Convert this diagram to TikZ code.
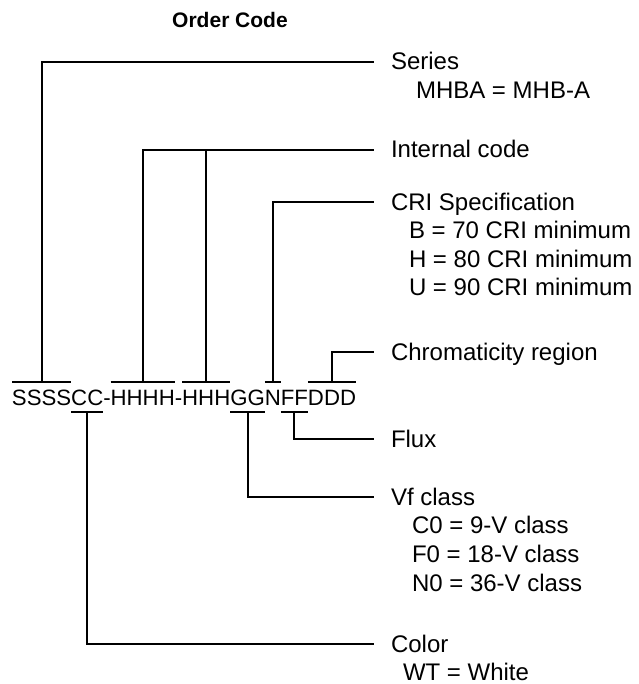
\documentclass[tikz,border=0pt]{standalone}
\usepackage{fontspec}
\setmainfont{Liberation Sans}
\begin{document}
\begin{tikzpicture}[x=1pt,y=1pt,
  code/.style={inner sep=0pt, outer sep=0pt, anchor=base west, font=\fontsize{22.2}{26}\selectfont},
  lab/.style={inner sep=0pt, outer sep=0pt, anchor=base west, font=\fontsize{24}{28}\selectfont},
  ttl/.style={inner sep=0pt, font=\fontsize{21}{25}\selectfont\bfseries},
  link/.style={line width=2pt}]
\useasboundingbox (0,0) rectangle (638,684);

% title
\node[ttl] (title) at (230,664) {Order Code};

% order code, split in groups
\node[code] (s)  at (12,278) {SSSS};
\node[code] (c)  at (s.base east)  {CC};
\node[code] (d1) at (c.base east)  {-};
\node[code] (ha) at (d1.base east) {HHHH};
\node[code] (d2) at (ha.base east) {-};
\node[code] (hb) at (d2.base east) {HHH};
\node[code] (g)  at (hb.base east) {GG};
\node[code] (n)  at (g.base east)  {N};
\node[code] (f)  at (n.base east)  {FF};
\node[code] (d)  at (f.base east)  {DDD};

% labels
\node[lab] (series)   at (391,614)   {Series};
\node[lab] (seriesa)  at (416,585)   {MHBA = MHB-A};
\node[lab] (internal) at (391,526)   {Internal code};
\node[lab] (cri)      at (391,473.5) {CRI Specification};
\node[lab] (cria)     at (409,445)   {B = 70 CRI minimum};
\node[lab] (crib)     at (409,416.5) {H = 80 CRI minimum};
\node[lab] (cric)     at (409,388)   {U = 90 CRI minimum};
\node[lab] (chroma)   at (391,323.5) {Chromaticity region};
\node[lab] (flux)     at (391,236.5) {Flux};
\node[lab] (vf)       at (391,178.5) {Vf class};
\node[lab] (vfa)      at (412,150)   {C0 = 9-V class};
\node[lab] (vfb)      at (412,121)   {F0 = 18-V class};
\node[lab] (vfc)      at (412,92)    {N0 = 36-V class};
\node[lab] (color)    at (391,31.5)  {Color};
\node[lab] (colora)   at (403,4)     {WT = White};

% bars above
\foreach \g in {s,ha,hb,n,d}{
  \draw[link] ([yshift=24pt]\g.base west) -- ([yshift=24pt]\g.base east);
}
% bars below
\foreach \g in {c,g,f}{
  \draw[link] ([yshift=-6pt]\g.base west) -- ([yshift=-6pt]\g.base east);
}

% connectors up
\draw[link] ([yshift=24pt]s.base) |- ([xshift=-17pt,yshift=8pt]series.base west);
\draw[link] ([yshift=24pt]ha.base) |- ([xshift=-17pt,yshift=8pt]internal.base west);
\draw[link] ([yshift=24pt]hb.base) |- ([xshift=-17pt,yshift=8pt]internal.base west);
\draw[link] ([yshift=24pt]n.base) |- ([xshift=-17pt,yshift=8pt]cri.base west);
\draw[link] ([yshift=24pt]d.base) |- ([xshift=-17pt,yshift=8pt]chroma.base west);

% connectors down
\draw[link] ([yshift=-6pt]c.base) |- ([xshift=-17pt,yshift=8pt]color.base west);
\draw[link] ([yshift=-6pt]g.base) |- ([xshift=-17pt,yshift=8pt]vf.base west);
\draw[link] ([yshift=-6pt]f.base) |- ([xshift=-17pt,yshift=8pt]flux.base west);
\end{tikzpicture}
\end{document}
